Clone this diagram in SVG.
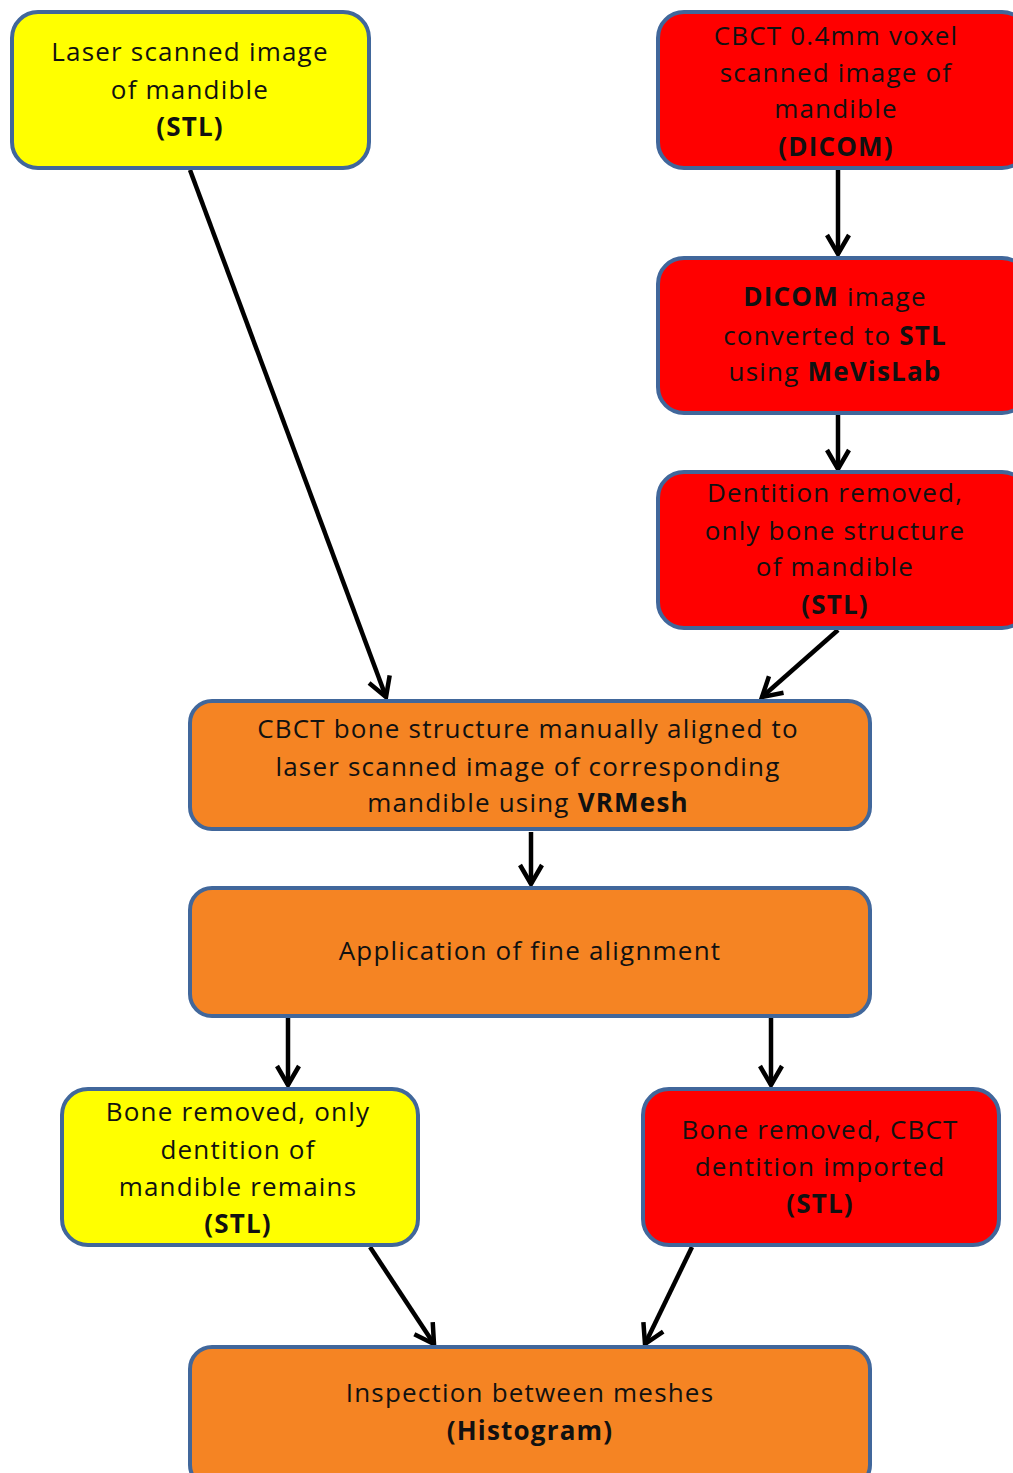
<svg xmlns="http://www.w3.org/2000/svg" width="1013" height="1473" viewBox="0 0 1013 1473">
<style>
.box{stroke:#41679b;stroke-width:4}
.y{fill:#ffff00}.r{fill:#ff0000}.o{fill:#f58423}
text{font-family:"Open Sans","Liberation Sans",sans-serif;font-size:26px;fill:#111;text-anchor:middle;letter-spacing:1.2px}
.b{font-weight:bold}
.c{stroke:#000;stroke-width:4.5;fill:none}
</style>
<defs>
<marker id="ah" viewBox="0 0 24 24" refX="21" refY="12" markerWidth="24" markerHeight="24" markerUnits="userSpaceOnUse" orient="auto" overflow="visible">
<path d="M2,1 L21,12 L2,23" fill="none" stroke="#000" stroke-width="4.5" stroke-linejoin="miter"/>
</marker>
</defs>
<rect width="1013" height="1473" fill="#fff"/>
<g id="connectors">
<path class="c" d="M190,170 L386,697" marker-end="url(#ah)"/>
<path class="c" d="M838,170 L838,254" marker-end="url(#ah)"/>
<path class="c" d="M838,415 L838,469" marker-end="url(#ah)"/>
<path class="c" d="M838,630 L762,697" marker-end="url(#ah)"/>
<path class="c" d="M531,832 L531,884" marker-end="url(#ah)"/>
<path class="c" d="M288,1018 L288,1085" marker-end="url(#ah)"/>
<path class="c" d="M771,1018 L771,1085" marker-end="url(#ah)"/>
<path class="c" d="M370,1247 L434,1344" marker-end="url(#ah)"/>
<path class="c" d="M692,1247 L645,1344" marker-end="url(#ah)"/>
</g>
<g id="n1"><rect class="box y" x="12" y="12" width="357" height="156" rx="26"/>
<text x="190" y="61">Laser scanned image</text><text x="190" y="99">of mandible</text><text x="190" y="136" class="b">(STL)</text></g>
<g id="n2"><rect class="box r" x="658" y="12" width="370" height="156" rx="26"/>
<text x="836" y="45">CBCT 0.4mm voxel</text><text x="836" y="82">scanned image of</text><text x="836" y="118">mandible</text><text x="836" y="156" class="b">(DICOM)</text></g>
<g id="n3"><rect class="box r" x="658" y="258" width="370" height="155" rx="26"/>
<text x="835" y="306"><tspan class="b">DICOM</tspan> image</text><text x="835" y="345">converted to <tspan class="b">STL</tspan></text><text x="835" y="381">using <tspan class="b">MeVisLab</tspan></text></g>
<g id="n4"><rect class="box r" x="658" y="472" width="370" height="156" rx="26"/>
<text x="835" y="502">Dentition removed,</text><text x="835" y="540">only bone structure</text><text x="835" y="576">of mandible</text><text x="835" y="614" class="b">(STL)</text></g>
<g id="n5"><rect class="box o" x="190" y="701" width="680" height="128" rx="22"/>
<text x="528" y="738">CBCT bone structure manually aligned to</text><text x="528" y="776">laser scanned image of corresponding</text><text x="528" y="812">mandible using <tspan class="b">VRMesh</tspan></text></g>
<g id="n6"><rect class="box o" x="190" y="888" width="680" height="128" rx="22"/>
<text x="530" y="960">Application of fine alignment</text></g>
<g id="n7"><rect class="box y" x="62" y="1089" width="356" height="156" rx="26"/>
<text x="238" y="1121">Bone removed, only</text><text x="238" y="1159">dentition of</text><text x="238" y="1196">mandible remains</text><text x="238" y="1233" class="b">(STL)</text></g>
<g id="n8"><rect class="box r" x="643" y="1089" width="356" height="156" rx="26"/>
<text x="820" y="1139">Bone removed, CBCT</text><text x="820" y="1176">dentition imported</text><text x="820" y="1213" class="b">(STL)</text></g>
<g id="n9"><rect class="box o" x="190" y="1347" width="680" height="140" rx="22"/>
<text x="530" y="1402">Inspection between meshes</text><text x="530" y="1440" class="b">(Histogram)</text></g>
</svg>
